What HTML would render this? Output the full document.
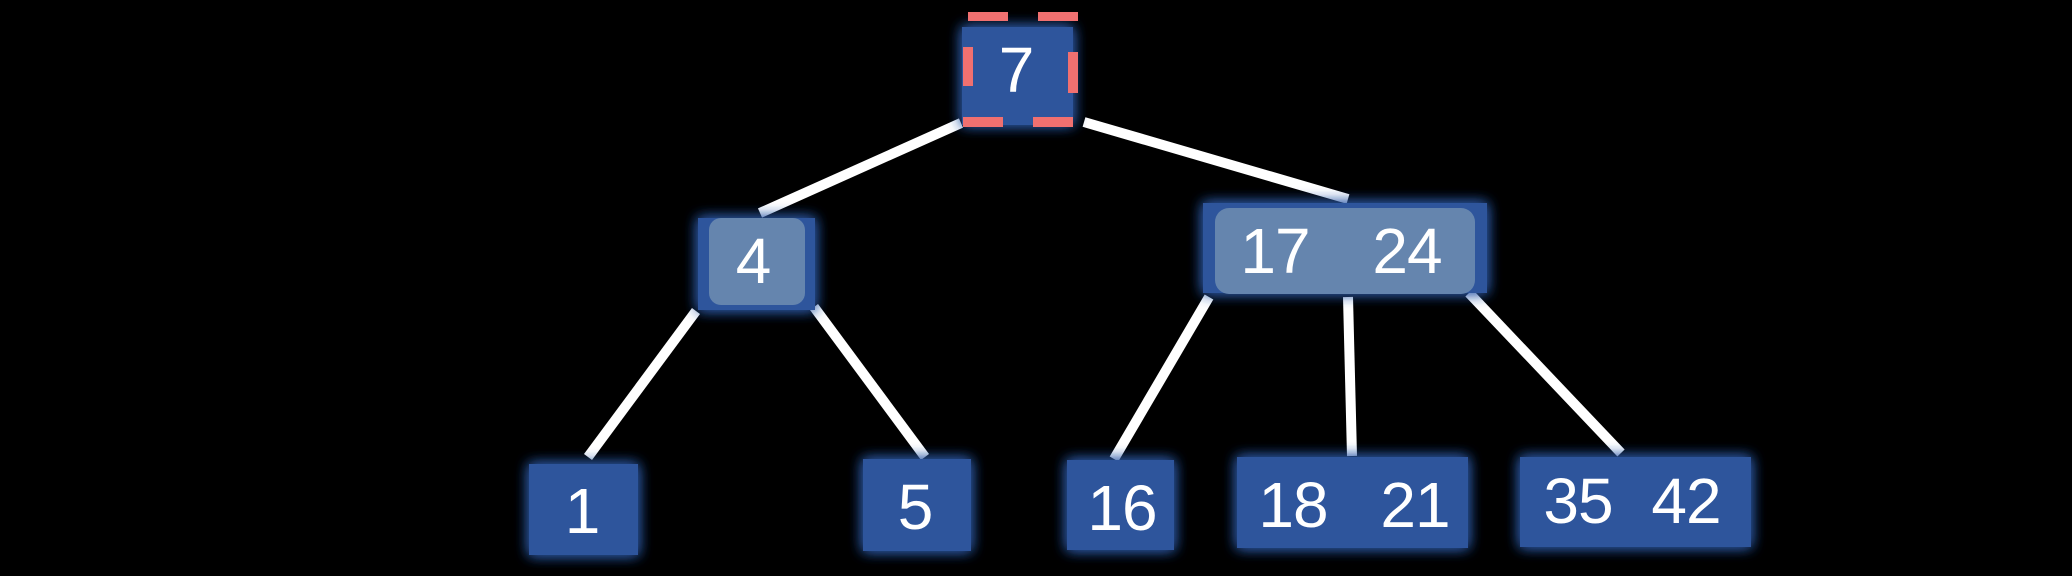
<!DOCTYPE html>
<html><head><meta charset="utf-8"><style>
html,body{margin:0;padding:0;background:#000;}
svg{display:block;}
text{font-family:"Liberation Sans",sans-serif;font-size:64px;fill:#fff;text-anchor:middle;dominant-baseline:central;letter-spacing:-1px;}
</style></head><body>
<svg width="2072" height="576" viewBox="0 0 2072 576" xmlns="http://www.w3.org/2000/svg">
<defs>
<filter id="g" x="-30%" y="-30%" width="160%" height="160%">
<feGaussianBlur in="SourceAlpha" stdDeviation="7" result="b"/>
<feFlood flood-color="#2f5aa8" flood-opacity="0.9"/>
<feComposite in2="b" operator="in" result="s"/>
<feMerge><feMergeNode in="s"/><feMergeNode in="s"/><feMergeNode in="SourceGraphic"/></feMerge>
</filter>
</defs>
<rect width="2072" height="576" fill="#000"/>
<g stroke="#fff" stroke-width="10" stroke-linecap="butt">
<line x1="961" y1="123" x2="760" y2="213"/>
<line x1="1084" y1="122" x2="1348" y2="199"/>
<line x1="696" y1="311" x2="588" y2="457"/>
<line x1="814" y1="307" x2="925" y2="457"/>
<line x1="1209" y1="297" x2="1114" y2="459"/>
<line x1="1348" y1="297" x2="1352" y2="456"/>
<line x1="1469" y1="293" x2="1621" y2="453"/>
</g>
<g filter="url(#g)" fill="#2f549c">
<rect x="962" y="27" width="111" height="98"/>
<rect x="698" y="218" width="117" height="92"/>
<rect x="1203" y="203" width="284" height="90"/>
<rect x="529" y="464" width="109" height="91"/>
<rect x="863" y="459" width="108" height="92"/>
<rect x="1067" y="460" width="107" height="90"/>
<rect x="1237" y="457" width="231" height="91"/>
<rect x="1520" y="457" width="231" height="90"/>
</g>
<rect x="709" y="218" width="96" height="87" rx="12" fill="#6585ae"/>
<rect x="1215" y="208" width="260" height="86" rx="14" fill="#6585ae"/>
<g fill="#f07070">
<rect x="968" y="12" width="40" height="9"/>
<rect x="1038" y="12" width="40" height="9"/>
<rect x="963" y="47" width="10" height="39"/>
<rect x="1068" y="52" width="10" height="41"/>
<rect x="963" y="117" width="40" height="10"/>
<rect x="1033" y="117" width="40" height="10"/>
</g>
<text x="1016" y="70">7</text>
<text x="753" y="261">4</text>
<text x="1275" y="251">17</text>
<text x="1407" y="251">24</text>
<text x="582" y="511">1</text>
<text x="915" y="507">5</text>
<text x="1122" y="508">16</text>
<text x="1293" y="505">18</text>
<text x="1415" y="505">21</text>
<text x="1578" y="501">35</text>
<text x="1686" y="501">42</text>
</svg>
</body></html>
